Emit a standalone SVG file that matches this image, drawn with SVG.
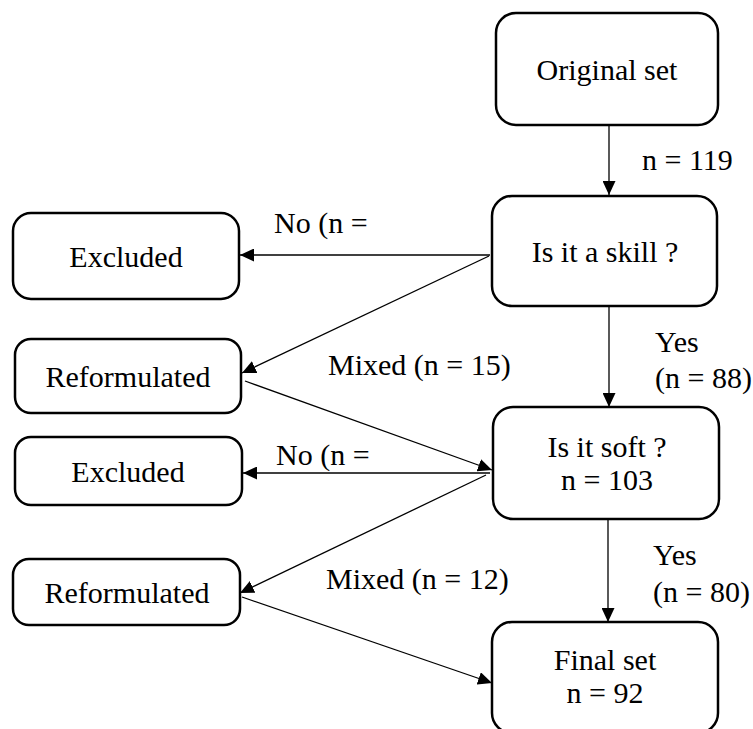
<svg xmlns="http://www.w3.org/2000/svg" width="753" height="729" viewBox="0 0 753 729">
<style>
.box{fill:#fff;stroke:#000;stroke-width:2.5}
.t{font-family:"Liberation Serif","Times New Roman",serif;font-size:30px;fill:#000}
.c{text-anchor:middle}
.ln{stroke:#000;stroke-width:1.3;fill:none;marker-end:url(#ah)}
</style>
<defs>
<marker id="ah" markerUnits="userSpaceOnUse" markerWidth="15" markerHeight="13" refX="14" refY="6.5" orient="auto">
<path d="M0,0 L14,6.5 L0,13 z" fill="#000"/>
</marker>
</defs>
<rect width="753" height="729" fill="#fff"/>
<g id="connectors">
<line class="ln" x1="609" y1="125" x2="609" y2="195"/>
<line class="ln" x1="490" y1="255" x2="240" y2="255"/>
<line class="ln" x1="489" y1="256" x2="242" y2="373"/>
<line class="ln" x1="245" y1="381" x2="492" y2="470"/>
<line class="ln" x1="609" y1="306" x2="609" y2="407"/>
<line class="ln" x1="490" y1="473" x2="243" y2="473"/>
<line class="ln" x1="486" y1="475" x2="240" y2="593"/>
<line class="ln" x1="242" y1="597" x2="492" y2="683"/>
<line class="ln" x1="608" y1="519" x2="608" y2="622"/>
</g>
<g id="labels">
<text class="t" x="642" y="170">n = 119</text>
<text class="t" x="274" y="233">No (n =</text>
<text class="t" x="328" y="375">Mixed (n = 15)</text>
<text class="t" x="655" y="352">Yes</text>
<text class="t" x="655" y="388">(n = 88)</text>
<text class="t" x="276" y="465">No (n =</text>
<text class="t" x="326" y="589">Mixed (n = 12)</text>
<text class="t" x="653" y="565">Yes</text>
<text class="t" x="653" y="602">(n = 80)</text>
</g>
<g id="original">
<rect class="box" x="496" y="13" width="222" height="112" rx="20"/>
<text class="t c" x="607" y="80">Original set</text>
</g>
<g id="skill">
<rect class="box" x="492" y="196" width="225" height="110" rx="20"/>
<text class="t c" x="605" y="262">Is it a skill ?</text>
</g>
<g id="excluded1">
<rect class="box" x="13" y="213" width="226" height="86" rx="18"/>
<text class="t c" x="126" y="267">Excluded</text>
</g>
<g id="reformulated1">
<rect class="box" x="15" y="339" width="226" height="74" rx="16"/>
<text class="t c" x="128" y="387">Reformulated</text>
</g>
<g id="soft">
<rect class="box" x="493" y="407" width="226" height="112" rx="20"/>
<text class="t c" x="607" y="457">Is it soft ?</text>
<text class="t c" x="607" y="490">n = 103</text>
</g>
<g id="excluded2">
<rect class="box" x="15" y="437" width="227" height="68" rx="16"/>
<text class="t c" x="128" y="482">Excluded</text>
</g>
<g id="reformulated2">
<rect class="box" x="13" y="559" width="227" height="66" rx="16"/>
<text class="t c" x="127" y="603">Reformulated</text>
</g>
<g id="final">
<rect class="box" x="492" y="622" width="226" height="111" rx="20"/>
<text class="t c" x="605" y="670">Final set</text>
<text class="t c" x="605" y="703">n = 92</text>
</g>
</svg>
